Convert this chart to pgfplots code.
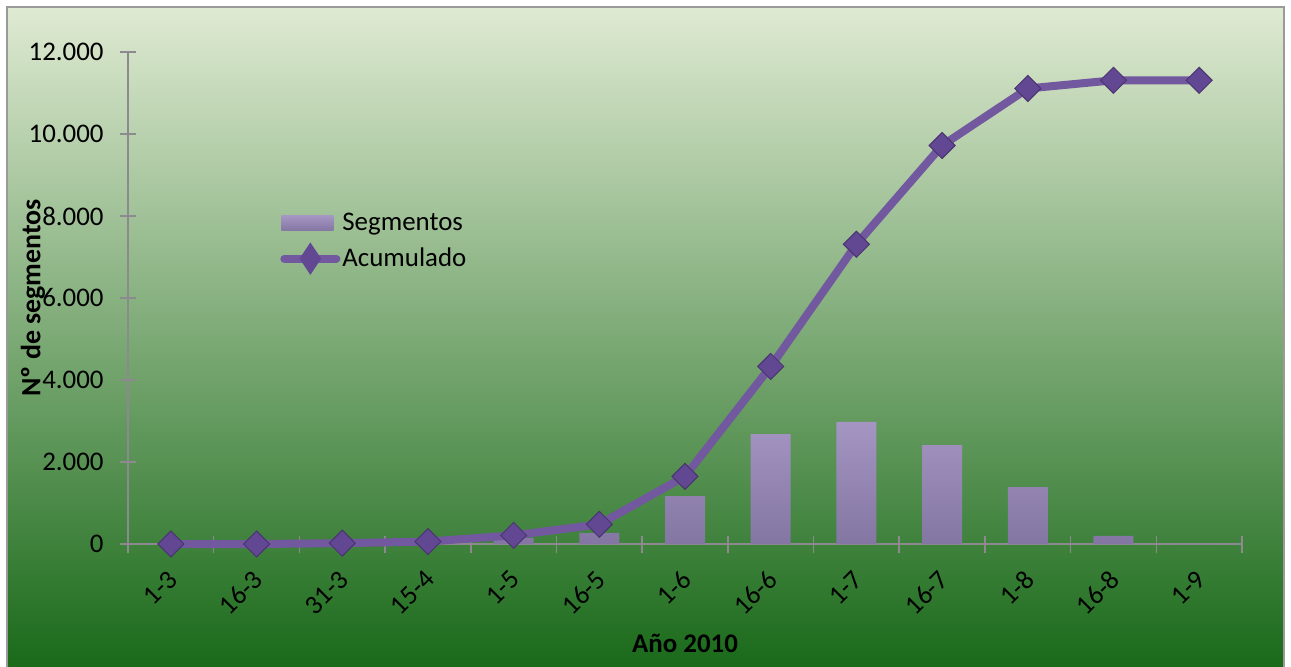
\documentclass[border=0pt]{standalone}
\usepackage{pgfplots}
\pgfplotsset{compat=1.18}
\usepackage{fontspec}
\setmainfont{Carlito}

\definecolor{bgtop}{HTML}{DFEAD2}
\definecolor{bgmid}{HTML}{98B86C}
\definecolor{bgbot}{HTML}{1A6A1A}
\definecolor{framec}{HTML}{9A9A9A}
\definecolor{axisc}{HTML}{8C8A8E}
\definecolor{bartop}{HTML}{A495C2}
\definecolor{barbot}{HTML}{8476A2}
\definecolor{linec}{HTML}{72589E}
\definecolor{markc}{HTML}{624792}
\definecolor{markd}{HTML}{4A3470}

\begin{document}
\begin{tikzpicture}[x=1bp,y=1bp]
\useasboundingbox (0,0) rectangle (645.5,333);
\shade[top color=bgtop, middle color=bgmid, bottom color=bgbot] (3.5,0) rectangle (642,329.5);
\draw[framec, line width=1bp] (3.5,-2) -- (3.5,329.5) -- (642,329.5) -- (642,-2);

\begin{axis}[
  at={(64bp,61bp)}, anchor=south west,
  scale only axis, width=557bp, height=246bp,
  clip=false,
  xmin=-0.5, xmax=12.5, ymin=0, ymax=12000,
  axis lines*=left,
  axis line style={axisc, line width=0.8bp},
  every tick/.style={axisc, line width=0.8bp},
  tick align=center,
  major tick length=8bp, minor tick length=8.5bp,
  xtick={0,...,12},
  major x tick style={draw=none},
  minor xtick={-0.5,0.5,...,12.5},
  xticklabels={1-3,16-3,31-3,15-4,1-5,16-5,1-6,16-6,1-7,16-7,1-8,16-8,1-9},
  ytick={0,2000,...,12000},
  /pgf/number format/assume math mode=true,
  /pgf/number format/1000 sep={.},
  scaled y ticks=false,
  ticklabel style={font=\fontsize{13.5}{15}\selectfont, text=black},
  xticklabel style={xshift=1bp, yshift=-11.5bp, rotate=45, anchor=east, inner sep=0pt},
  yticklabel style={anchor=east, inner sep=0pt, xshift=-8bp},
  xlabel={Año 2010},
  ylabel={Nº de segmentos},
  xlabel style={at={(axis description cs:0.5,0)}, anchor=center, yshift=-49.5bp, font=\fontsize{13.5}{15}\selectfont\bfseries},
  ylabel style={at={(axis description cs:0,0.5)}, anchor=center, yshift=47.5bp, font=\fontsize{14}{15}\selectfont\bfseries},
  legend style={at={(rel axis cs:0.1364,0.615)}, anchor=west, draw=none, fill=none,
    inner sep=0pt, row sep=5bp, font=\fontsize{13.5}{15}\selectfont,
    nodes={inner sep=1bp}},
  legend cell align=left,
]
\addplot[ybar, bar width=20bp, draw=none, top color=bartop, bottom color=barbot,
  legend image code/.code={\shade[top color=bartop, bottom color=barbot] (0bp,-3.75bp) rectangle (26bp,3.75bp);}]
  coordinates {(0,0) (1,0) (2,20) (3,40) (4,150) (5,270) (6,1170) (7,2680) (8,2980) (9,2410) (10,1390) (11,200) (12,0)};
\addlegendentry{Segmentos}
\addplot[linec, line width=4bp, mark=square*, mark size=4.6bp,
  mark options={rotate=45, fill=markc, draw=markd, line width=0.5bp},
  legend image code/.code={\draw[linec, line width=4bp, line cap=round] (1.5bp,0) -- (27.5bp,0);
    \fill[markc] (14.5bp,4.5bp) -- (17.5bp,0) -- (14.5bp,-4.5bp) -- (11.5bp,0) -- cycle;}]
  coordinates {(0,0) (1,0) (2,20) (3,60) (4,210) (5,480) (6,1650) (7,4330) (8,7310) (9,9720) (10,11110) (11,11310) (12,11310)};
\addlegendentry{Acumulado}
\end{axis}
\end{tikzpicture}
\end{document}
